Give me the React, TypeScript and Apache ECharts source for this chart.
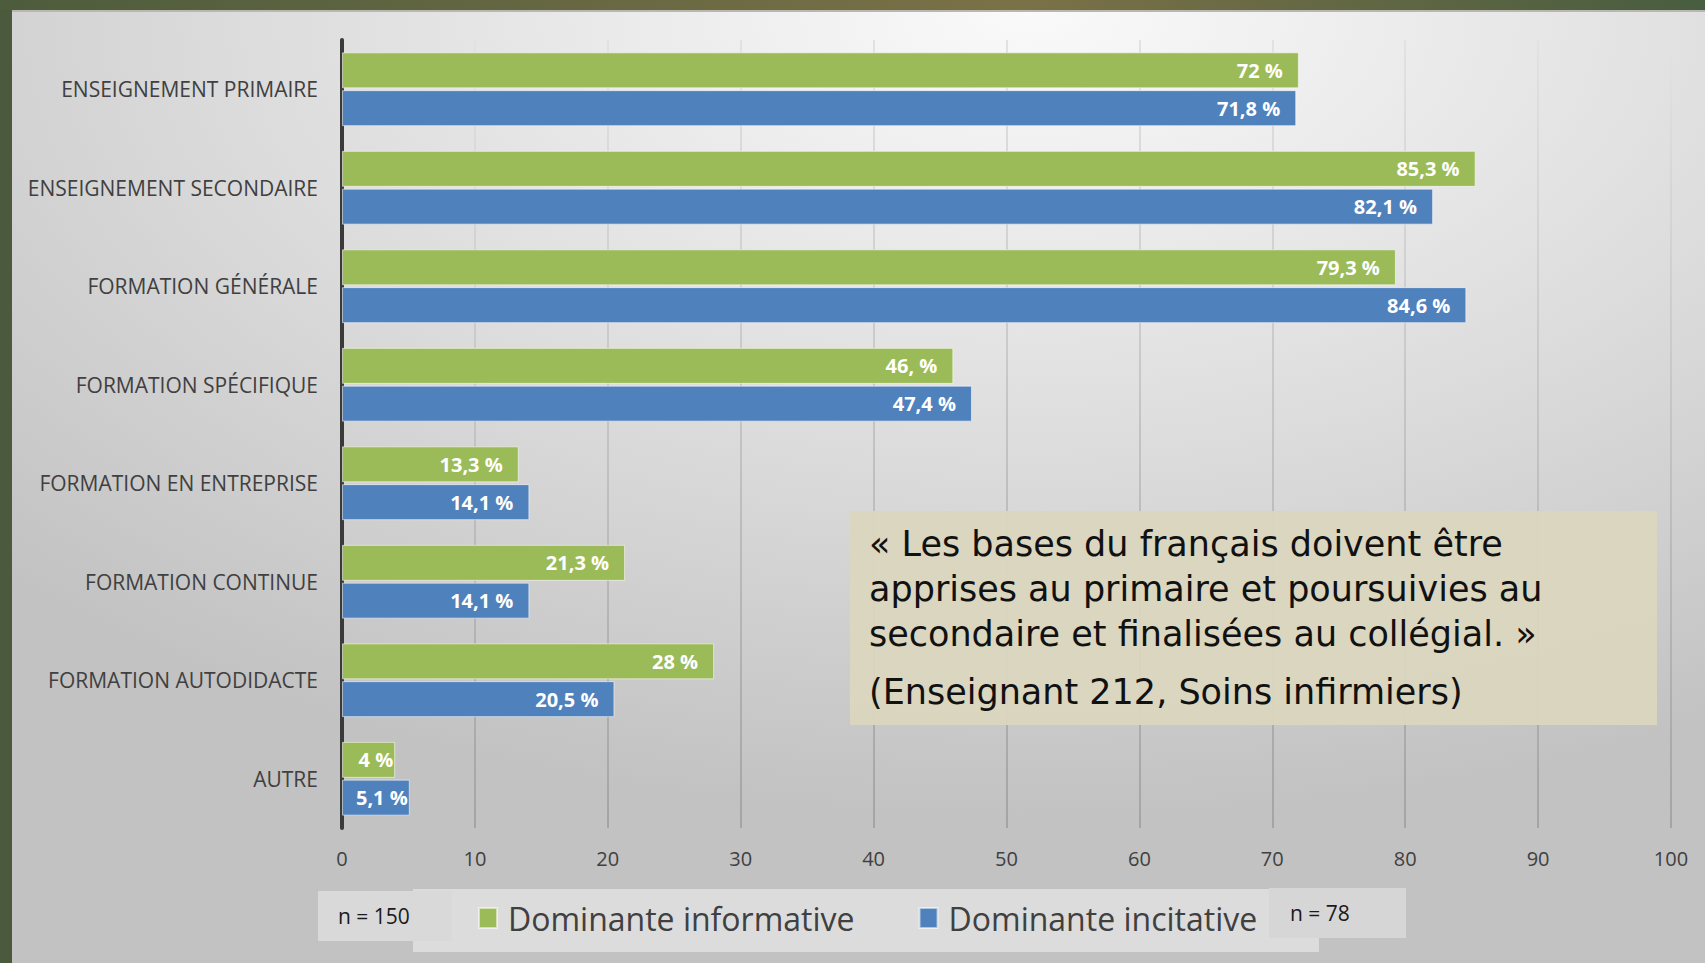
import React, { useEffect, useRef } from "react";
import * as echarts from "echarts";

const categories = [
  "ENSEIGNEMENT PRIMAIRE",
  "ENSEIGNEMENT SECONDAIRE",
  "FORMATION GÉNÉRALE",
  "FORMATION SPÉCIFIQUE",
  "FORMATION EN ENTREPRISE",
  "FORMATION CONTINUE",
  "FORMATION AUTODIDACTE",
  "AUTRE",
];
const informative = [72, 85.3, 79.3, 46, 13.3, 21.3, 28, 4];
const informativeLabels = ["72 %", "85,3 %", "79,3 %", "46, %", "13,3 %", "21,3 %", "28 %", "4 %"];
const incitative = [71.8, 82.1, 84.6, 47.4, 14.1, 14.1, 20.5, 5.1];
const incitativeLabels = ["71,8 %", "82,1 %", "84,6 %", "47,4 %", "14,1 %", "14,1 %", "20,5 %", "5,1 %"];
const seriesNames = ["Dominante informative", "Dominante incitative"];
const xTicks = { min: 0, max: 100, interval: 10 };
const quoteLines = [
  "« Les bases du français doivent être",
  "apprises au primaire et poursuivies au",
  "secondaire et finalisées au collégial. »",
];
const quoteSource = "(Enseignant 212, Soins infirmiers)";
const nLeft = "n = 150";
const nRight = "n = 78";

const W = 1705;
const H = 963;
const FONT = "'Open Sans', sans-serif";
const QFONT = "35px 'DejaVu Sans', sans-serif";

export default function App() {
  const ref = useRef<HTMLDivElement>(null);
  useEffect(() => {
    if (!ref.current) return;
    const chart = echarts.init(ref.current, undefined, { renderer: "svg" });
    const mkData = (vals: number[], labels: string[]) =>
      vals.map((v, i) => ({
        value: v,
        label: { distance: v < 10 ? 2 : 16, formatter: labels[i] },
      }));
    const barLabel = {
      show: true,
      position: "insideRight",
      color: "#fff",
      fontWeight: "bold",
      fontSize: 20,
      fontFamily: FONT,
    };
    const option: any = {
      animation: false,
      backgroundColor: "transparent",
      graphic: [
        {
          type: "rect",
          z: -10,
          silent: true,
          shape: { x: 0, y: 0, width: W, height: H },
          style: {
            fill: {
              type: "linear",
              x: 0, y: 0, x2: 1, y2: 0,
              colorStops: [
                { offset: 0, color: "#4d5c3d" },
                { offset: 0.6, color: "#7b7147" },
                { offset: 1, color: "#485d40" },
              ],
            },
          },
        },
        {
          type: "rect",
          z: -9,
          silent: true,
          shape: { x: 0, y: 10, width: 12, height: H - 10 },
          style: { fill: "#4b5a3c" },
        },
        {
          type: "rect",
          z: -8,
          silent: true,
          shape: { x: 12, y: 10, width: W - 12, height: H - 10 },
          style: {
            fill: {
              type: "radial",
              x: 0.6, y: 0.0, r: 0.85,
              colorStops: [
                { offset: 0, color: "#fafafa" },
                { offset: 0.55, color: "#dcdcdc" },
                { offset: 1, color: "#c2c2c2" },
              ],
            },
          },
        },
        {
          type: "rect",
          z: -7,
          silent: true,
          shape: { x: 12, y: 10, width: W - 12, height: 2 },
          style: { fill: "#b8b8b0" },
        },
        // legend box
        {
          type: "rect",
          z: 5,
          silent: true,
          shape: { x: 413, y: 889, width: 906, height: 63 },
          style: { fill: "#dcdcdc" },
        },
        {
          type: "rect",
          z: 6,
          silent: true,
          shape: { x: 318, y: 891, width: 134, height: 50 },
          style: { fill: "#d9d9d9" },
        },
        {
          type: "text",
          z: 7,
          silent: true,
          x: 338,
          y: 916,
          style: { text: nLeft, fill: "#1a1a1a", font: `21px ${FONT}`, verticalAlign: "middle" },
        },
        {
          type: "rect",
          z: 6,
          silent: true,
          shape: { x: 1269, y: 888, width: 137, height: 50 },
          style: { fill: "#d6d6d6" },
        },
        {
          type: "text",
          z: 7,
          silent: true,
          x: 1290,
          y: 913,
          style: { text: nRight, fill: "#1a1a1a", font: `21px ${FONT}`, verticalAlign: "middle" },
        },
        // quote box
        {
          type: "rect",
          z: 20,
          silent: true,
          shape: { x: 850, y: 511, width: 807, height: 214 },
          style: { fill: "rgba(218,214,190,0.95)" },
        },
        ...quoteLines.map((t, i) => ({
          type: "text",
          z: 21,
          silent: true,
          x: 869,
          y: 544 + i * 45,
          style: { text: t, fill: "#111", font: QFONT, verticalAlign: "middle" },
        })),
        {
          type: "text",
          z: 21,
          silent: true,
          x: 869,
          y: 692,
          style: { text: quoteSource, fill: "#111", font: QFONT, verticalAlign: "middle" },
        },
      ],
      grid: { left: 342, right: 34, top: 40, bottom: 135, containLabel: false },
      legend: {
        data: seriesNames,
        left: 478,
        top: 902,
        padding: 0,
        icon: "rect",
        itemWidth: 18,
        itemHeight: 20,
        itemGap: 64,
        z: 8,
        textStyle: { fontSize: 32, color: "#404040", fontFamily: FONT, padding: [0, 0, 0, 6] },
      },
      xAxis: {
        type: "value",
        ...xTicks,
        axisLine: { show: false },
        axisTick: { show: false },
        axisLabel: { color: "#404040", fontSize: 20, fontFamily: FONT, margin: 20 },
        splitLine: {
          show: true,
          lineStyle: {
            width: 2,
            color: {
              type: "linear",
              global: true,
              x: 0, y: 40, x2: 0, y2: 828,
              colorStops: [
                { offset: 0, color: "#e2e2e2" },
                { offset: 1, color: "#a4a4a4" },
              ],
            },
          },
        },
      },
      yAxis: {
        type: "category",
        data: categories,
        inverse: true,
        axisLine: { show: true, lineStyle: { color: "#3a3a3a", width: 4 } },
        axisTick: { show: false },
        axisLabel: { color: "#404040", fontSize: 21, fontFamily: FONT, margin: 24 },
        splitLine: { show: false },
      },
      series: [
        {
          name: seriesNames[0],
          type: "bar",
          data: mkData(informative, informativeLabels),
          barWidth: 36,
          barGap: "5%",
          itemStyle: { color: "#9bbb59", borderColor: "rgba(255,255,255,0.55)", borderWidth: 1 },
          label: barLabel,
        },
        {
          name: seriesNames[1],
          type: "bar",
          data: mkData(incitative, incitativeLabels),
          barWidth: 36,
          barGap: "5%",
          itemStyle: { color: "#4f81bd", borderColor: "rgba(255,255,255,0.55)", borderWidth: 1 },
          label: barLabel,
        },
      ],
    };
    chart.setOption(option);
    return () => chart.dispose();
  }, []);
  return (
    <div
      ref={ref}
      style={{ position: "absolute", left: 0, top: 0, width: W, height: H }}
    />
  );
}
